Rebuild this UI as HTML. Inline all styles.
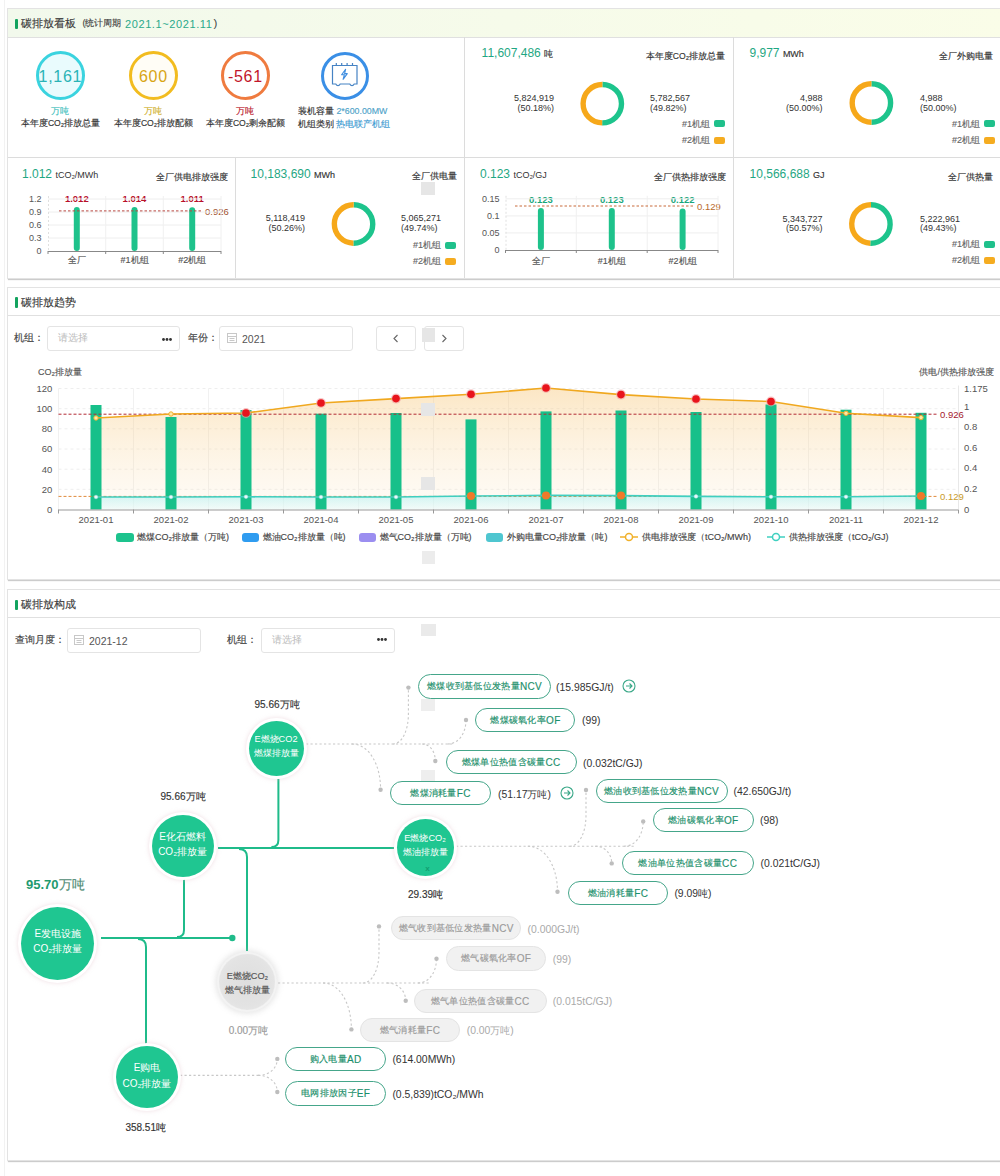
<!DOCTYPE html>
<html><head><meta charset="utf-8">
<style>
*{margin:0;padding:0;box-sizing:border-box}
html,body{width:1000px;height:1176px;overflow:hidden;background:#fff}
body{position:relative;font-family:"Liberation Sans",sans-serif;color:#333;font-size:11px}
.a{position:absolute;white-space:nowrap;line-height:1}
.card{position:absolute;left:7px;width:1000px;border:1px solid #e3e3e3;background:#fff;box-shadow:0 2px 1px -1px rgba(0,0,0,.2)}
.hd{position:absolute;left:0;top:0;right:0;border-bottom:1px solid #e0e0e0}
.bar{position:absolute;width:3px;background:#13a35f;border-radius:1px}
.vl{position:absolute;width:1px;background:#dcdcdc}
.hl{position:absolute;height:1px;background:#dcdcdc}
.inp{position:absolute;border:1px solid #e4e4e4;border-radius:3px;background:#fff}
.sq{position:absolute;background:#e6e6e6}
.num{color:#1fa783}
.c{transform:translateX(-50%)}
.sw{position:absolute;width:10.5px;height:7px;border-radius:2px}
.ts{-webkit-text-stroke:0.15px currentColor}
</style></head><body>
<div class="a" style="left:3.5px;top:0;width:1px;height:1176px;background:#f2f2f2"></div>
<div class="card" style="top:8px;height:271px"><div class="hd" style="height:29px;background:linear-gradient(90deg,#f2f9ec,#fafde8)"></div></div>
<div class="bar" style="left:15px;top:18.5px;height:10px"></div>
<div class="a ts" style="left:21px;top:17.5px;font-size:11px;color:#3a3a3a">碳排放看板</div>
<div class="a ts" style="left:82.5px;top:19px;font-size:9px;color:#444">(统计周期</div>
<div class="a" style="left:125px;top:18.6px;font-size:11px;letter-spacing:0.6px;color:#2aa98a">2021.1~2021.11</div>
<div class="a" style="left:213.5px;top:17.5px;font-size:11.5px;color:#444">)</div>
<div class="hl" style="left:8px;top:157px;width:992px"></div>
<div class="vl" style="left:464px;top:37px;height:241px"></div>
<div class="vl" style="left:733px;top:37px;height:241px"></div>
<div class="vl" style="left:235px;top:157px;height:121px"></div>
<div class="a" style="left:35.5px;top:51.2px;width:49px;height:49px;border:3.5px solid #3ad3df;border-radius:50%;background:#e9fbfd"></div>
<div class="a c" style="left:60px;top:68.5px;font-size:16px;letter-spacing:0.7px;padding-left:0.7px;color:#2ab3b6">1,161</div>
<div class="a c ts" style="left:60px;top:106.7px;font-size:9px;color:#3fc0bd">万吨</div>
<div class="a c ts" style="left:60.5px;top:118.7px;font-size:8.6px;color:#333">本年度CO₂排放总量</div>
<div class="a" style="left:128.5px;top:51.2px;width:49px;height:49px;border:3.5px solid #f2bc1f;border-radius:50%;background:#fffdf6"></div>
<div class="a c" style="left:153px;top:68.5px;font-size:16px;letter-spacing:0.7px;padding-left:0.7px;color:#d8a514">600</div>
<div class="a c ts" style="left:153px;top:106.7px;font-size:9px;color:#d0b02e">万吨</div>
<div class="a c ts" style="left:153.5px;top:118.7px;font-size:8.6px;color:#333">本年度CO₂排放配额</div>
<div class="a" style="left:220.5px;top:51.2px;width:49px;height:49px;border:3.5px solid #ef7b3f;border-radius:50%;background:#fff"></div>
<div class="a c" style="left:245px;top:68.5px;font-size:16px;letter-spacing:0.7px;padding-left:0.7px;color:#c2162b">-561</div>
<div class="a c ts" style="left:245px;top:106.7px;font-size:9px;color:#b9172c">万吨</div>
<div class="a c ts" style="left:245.5px;top:118.7px;font-size:8.6px;color:#333">本年度CO₂剩余配额</div>
<div class="a" style="left:320.5px;top:51.5px;width:48px;height:48px;border:3px solid #3a8fe6;border-radius:50%;background:#fff"></div>
<svg class="a" style="left:330px;top:60px" width="30" height="30" viewBox="0 0 30 30" fill="none" stroke="#4683c4" stroke-width="1.2">
  <path d="M2.5 5.5 H27 V24 H24.2 Q23.4 25.6 22 25.6 Q20.6 25.6 19.8 24 H10.2 Q9.4 25.6 8 25.6 Q6.6 25.6 5.8 24 H2.5 Z"/>
  <path d="M6.3 3 V5.5 M11.7 3 V5.5 M17.1 3 V5.5 M22.5 3 V5.5"/>
  <path d="M15.6 9.3 L11.6 14.8 H14.3 L13.1 19.3 L17.3 13.6 H14.6 Z" fill="#d9ecfb" stroke="#3f8de0" stroke-width="1.1" stroke-linejoin="round"/>
</svg>
<div class="a ts" style="left:298px;top:106.6px;font-size:8.8px;color:#333">装机容量 <span style="color:#4fa3c9">2*600.00MW</span></div>
<div class="a ts" style="left:298px;top:119.8px;font-size:8.8px;color:#333">机组类别 <span style="color:#3e9bd2">热电联产机组</span></div>
<div class="a num" style="left:481.6px;top:47.1px;font-size:12px">11,607,486 <span class="ts" style="font-size:9px;color:#333">吨</span></div>
<div class="a ts" style="right:275.0px;top:52.2px;font-size:8.6px;color:#333">本年度CO₂排放总量</div>
<div class="a" style="right:446.0px;top:94.0px;font-size:9px;color:#333;text-align:right;line-height:9.5px">5,824,919<br>(50.18%)</div>
<div class="a" style="left:650px;top:94.0px;font-size:9px;color:#333;line-height:9.5px">5,782,567<br>(49.82%)</div>
<div class="a ts" style="right:290.0px;top:119.5px;font-size:9px;color:#666">#1机组</div>
<div class="a ts" style="right:290.0px;top:135.9px;font-size:9px;color:#666">#2机组</div>
<div class="sw" style="left:714px;top:120.3px;background:#1fc08b"></div>
<div class="sw" style="left:714px;top:137.0px;background:#f5ac20"></div>
<svg class="a" style="left:0;top:0;overflow:visible" width="1" height="1" fill="none" stroke-width="5.4"><path d="M602.4 84.5 A19.2 19.2 0 1 1 602.18 122.90" stroke="#1dc48c"/><path d="M602.18 122.90 A19.2 19.2 0 0 1 602.4 84.5" stroke="#f6a81a"/></svg>
<div class="a num" style="left:749.5px;top:47.1px;font-size:12px">9,977 <span class="ts" style="font-size:9px;color:#333">MWh</span></div>
<div class="a ts" style="right:6.7px;top:51.9px;font-size:8.6px;color:#333">全厂外购电量</div>
<div class="a" style="right:177.5px;top:94.0px;font-size:9px;color:#333;text-align:right;line-height:9.5px">4,988<br>(50.00%)</div>
<div class="a" style="left:920px;top:94.0px;font-size:9px;color:#333;line-height:9.5px">4,988<br>(50.00%)</div>
<div class="a ts" style="right:20.0px;top:119.5px;font-size:9px;color:#666">#1机组</div>
<div class="a ts" style="right:20.0px;top:135.5px;font-size:9px;color:#666">#2机组</div>
<div class="sw" style="left:984px;top:120.3px;background:#1fc08b"></div>
<div class="sw" style="left:984px;top:136.6px;background:#f5ac20"></div>
<svg class="a" style="left:0;top:0;overflow:visible" width="1" height="1" fill="none" stroke-width="5.4"><path d="M871.4 83.8 A19.2 19.2 0 0 1 871.40 122.20" stroke="#1dc48c"/><path d="M871.40 122.20 A19.2 19.2 0 1 1 871.4 83.8" stroke="#f6a81a"/></svg>
<div class="a num" style="left:250.6px;top:168.1px;font-size:12px">10,183,690 <span class="ts" style="font-size:9px;color:#333">MWh</span></div>
<div class="a ts" style="right:543.0px;top:172.4px;font-size:8.6px;color:#333">全厂供电量</div>
<div class="a" style="right:695.0px;top:214.0px;font-size:9px;color:#333;text-align:right;line-height:9.5px">5,118,419<br>(50.26%)</div>
<div class="a" style="left:401px;top:214.0px;font-size:9px;color:#333;line-height:9.5px">5,065,271<br>(49.74%)</div>
<div class="a ts" style="right:559.0px;top:240.9px;font-size:9px;color:#666">#1机组</div>
<div class="a ts" style="right:559.0px;top:256.7px;font-size:9px;color:#666">#2机组</div>
<div class="sw" style="left:445px;top:241.7px;background:#1fc08b"></div>
<div class="sw" style="left:445px;top:257.8px;background:#f5ac20"></div>
<svg class="a" style="left:0;top:0;overflow:visible" width="1" height="1" fill="none" stroke-width="5.4"><path d="M353.7 204.8 A19.2 19.2 0 1 1 353.39 243.20" stroke="#1dc48c"/><path d="M353.39 243.20 A19.2 19.2 0 0 1 353.7 204.8" stroke="#f6a81a"/></svg>
<div class="a num" style="left:749.6px;top:167.6px;font-size:12px">10,566,688 <span class="ts" style="font-size:9px;color:#333">GJ</span></div>
<div class="a ts" style="right:7.0px;top:172.9px;font-size:8.6px;color:#333">全厂供热量</div>
<div class="a" style="right:177.5px;top:214.7px;font-size:9px;color:#333;text-align:right;line-height:9.5px">5,343,727<br>(50.57%)</div>
<div class="a" style="left:920px;top:214.7px;font-size:9px;color:#333;line-height:9.5px">5,222,961<br>(49.43%)</div>
<div class="a ts" style="right:20.0px;top:240.3px;font-size:9px;color:#666">#1机组</div>
<div class="a ts" style="right:20.0px;top:256.0px;font-size:9px;color:#666">#2机组</div>
<div class="sw" style="left:984px;top:241.1px;background:#1fc08b"></div>
<div class="sw" style="left:984px;top:257.1px;background:#f5ac20"></div>
<svg class="a" style="left:0;top:0;overflow:visible" width="1" height="1" fill="none" stroke-width="5.4"><path d="M871 204.8 A19.2 19.2 0 1 1 870.31 243.19" stroke="#1dc48c"/><path d="M870.31 243.19 A19.2 19.2 0 0 1 871 204.8" stroke="#f6a81a"/></svg>
<div class="sq" style="left:421px;top:182px;width:14px;height:13px"></div>
<div class="a num" style="left:22px;top:168.1px;font-size:12px">1.012 <span style="font-size:9px;color:#333">tCO₂/MWh</span></div>
<div class="a ts" style="right:772.2px;top:172.9px;font-size:8.6px;color:#333">全厂供电排放强度</div>
<div class="a" style="right:958.5px;top:194.7px;font-size:9px;color:#555">1.2</div>
<div class="a" style="right:958.5px;top:207.7px;font-size:9px;color:#555">0.9</div>
<div class="a" style="right:958.5px;top:220.7px;font-size:9px;color:#555">0.6</div>
<div class="a" style="right:958.5px;top:233.7px;font-size:9px;color:#555">0.3</div>
<div class="a" style="right:958.5px;top:246.7px;font-size:9px;color:#555">0</div>
<div class="a c" style="left:76.8px;top:193.8px;font-size:9.5px;font-weight:bold;color:#b8102a">1.012</div>
<div class="a c ts" style="left:76.8px;top:256.2px;font-size:9px;color:#555">全厂</div>
<div class="a c" style="left:134.5px;top:193.8px;font-size:9.5px;font-weight:bold;color:#b8102a">1.014</div>
<div class="a c ts" style="left:134.5px;top:256.2px;font-size:9px;color:#555">#1机组</div>
<div class="a c" style="left:192.2px;top:193.9px;font-size:9.5px;font-weight:bold;color:#b8102a">1.011</div>
<div class="a c ts" style="left:192.2px;top:256.2px;font-size:9px;color:#555">#2机组</div>
<div class="a" style="left:205px;top:206.6px;font-size:9.5px;color:#a0522d">0.926</div>
<svg class="a" style="left:0;top:0;overflow:visible" width="1" height="1">
<line x1="48" y1="199.0" x2="221" y2="199.0" stroke="#eeeeee" stroke-width="1"/>
<line x1="48" y1="212.0" x2="221" y2="212.0" stroke="#eeeeee" stroke-width="1"/>
<line x1="48" y1="225.0" x2="221" y2="225.0" stroke="#eeeeee" stroke-width="1"/>
<line x1="48" y1="238.0" x2="221" y2="238.0" stroke="#eeeeee" stroke-width="1"/>
<line x1="105.7" y1="196" x2="105.7" y2="251" stroke="#f0f0f0" stroke-width="1"/>
<line x1="163.3" y1="196" x2="163.3" y2="251" stroke="#f0f0f0" stroke-width="1"/>
<line x1="221.0" y1="196" x2="221.0" y2="251" stroke="#f0f0f0" stroke-width="1"/>
<line x1="48" y1="251.5" x2="221" y2="251.5" stroke="#888" stroke-width="1"/>
<line x1="48.0" y1="251" x2="48.0" y2="254" stroke="#888" stroke-width="1"/>
<line x1="105.7" y1="251" x2="105.7" y2="254" stroke="#888" stroke-width="1"/>
<line x1="163.3" y1="251" x2="163.3" y2="254" stroke="#888" stroke-width="1"/>
<line x1="221.0" y1="251" x2="221.0" y2="254" stroke="#888" stroke-width="1"/>
<line x1="48.5" y1="196" x2="48.5" y2="251" stroke="#e0e0e0" stroke-width="1" stroke-dasharray="2 2"/>
<line x1="76.8" y1="210.1" x2="76.8" y2="248" stroke="#1ec28b" stroke-width="6" stroke-linecap="round"/>
<line x1="134.5" y1="210.1" x2="134.5" y2="248" stroke="#1ec28b" stroke-width="6" stroke-linecap="round"/>
<line x1="192.2" y1="210.2" x2="192.2" y2="248" stroke="#1ec28b" stroke-width="6" stroke-linecap="round"/>
<line x1="59" y1="210.9" x2="202.5" y2="210.9" stroke="#b84840" stroke-width="1" stroke-dasharray="2.5 2"/>
</svg>
<div class="a num" style="left:480px;top:168.3px;font-size:12px">0.123 <span style="font-size:9px;color:#333">tCO₂/GJ</span></div>
<div class="a ts" style="right:274.5px;top:172.9px;font-size:8.6px;color:#333">全厂供热排放强度</div>
<div class="a" style="right:500.4px;top:194.5px;font-size:9px;color:#555">0.15</div>
<div class="a" style="right:500.4px;top:211.6px;font-size:9px;color:#555">0.1</div>
<div class="a" style="right:500.4px;top:228.6px;font-size:9px;color:#555">0.05</div>
<div class="a" style="right:500.4px;top:245.7px;font-size:9px;color:#555">0</div>
<div class="a c" style="left:540.9px;top:194.7px;font-size:9.5px;font-weight:bold;color:#1aa67a">0.123</div>
<div class="a c ts" style="left:540.9px;top:256.7px;font-size:9px;color:#555">全厂</div>
<div class="a c" style="left:611.8px;top:194.7px;font-size:9.5px;font-weight:bold;color:#1aa67a">0.123</div>
<div class="a c ts" style="left:611.8px;top:256.7px;font-size:9px;color:#555">#1机组</div>
<div class="a c" style="left:682.6px;top:195.1px;font-size:9.5px;font-weight:bold;color:#1aa67a">0.122</div>
<div class="a c ts" style="left:682.6px;top:256.7px;font-size:9px;color:#555">#2机组</div>
<div class="a" style="left:697px;top:201.7px;font-size:9.5px;color:#b86a2c">0.129</div>
<svg class="a" style="left:0;top:0;overflow:visible" width="1" height="1">
<line x1="505.5" y1="198.8" x2="718" y2="198.8" stroke="#eeeeee" stroke-width="1"/>
<line x1="505.5" y1="215.9" x2="718" y2="215.9" stroke="#eeeeee" stroke-width="1"/>
<line x1="505.5" y1="232.9" x2="718" y2="232.9" stroke="#eeeeee" stroke-width="1"/>
<line x1="576.3" y1="195.8" x2="576.3" y2="250" stroke="#f0f0f0" stroke-width="1"/>
<line x1="647.2" y1="195.8" x2="647.2" y2="250" stroke="#f0f0f0" stroke-width="1"/>
<line x1="718.0" y1="195.8" x2="718.0" y2="250" stroke="#f0f0f0" stroke-width="1"/>
<line x1="505.5" y1="250.5" x2="718" y2="250.5" stroke="#888" stroke-width="1"/>
<line x1="505.5" y1="250" x2="505.5" y2="253" stroke="#888" stroke-width="1"/>
<line x1="576.3" y1="250" x2="576.3" y2="253" stroke="#888" stroke-width="1"/>
<line x1="647.2" y1="250" x2="647.2" y2="253" stroke="#888" stroke-width="1"/>
<line x1="718.0" y1="250" x2="718.0" y2="253" stroke="#888" stroke-width="1"/>
<line x1="506.0" y1="195.8" x2="506.0" y2="250" stroke="#e0e0e0" stroke-width="1" stroke-dasharray="2 2"/>
<line x1="540.9" y1="211.0" x2="540.9" y2="247" stroke="#1ec28b" stroke-width="6" stroke-linecap="round"/>
<line x1="611.8" y1="211.0" x2="611.8" y2="247" stroke="#1ec28b" stroke-width="6" stroke-linecap="round"/>
<line x1="682.6" y1="211.4" x2="682.6" y2="247" stroke="#1ec28b" stroke-width="6" stroke-linecap="round"/>
<line x1="515" y1="206.0" x2="693" y2="206.0" stroke="#c86a3a" stroke-width="1" stroke-dasharray="2.5 2"/>
</svg>
<div class="card" style="top:287px;height:293px"><div class="hd" style="height:28px;background:#fff"></div></div>
<div class="bar" style="left:15px;top:297px;height:11px"></div>
<div class="a ts" style="left:21px;top:297.3px;font-size:11px;color:#3a3a3a">碳排放趋势</div>
<div class="a ts" style="left:14.4px;top:332.8px;font-size:10px;color:#444">机组：</div>
<div class="inp" style="left:47px;top:325.5px;width:133px;height:25px"></div>
<div class="a" style="left:57.5px;top:332.8px;font-size:10px;color:#bbb">请选择</div>
<svg class="a" style="left:160px;top:336px" width="14" height="7" fill="#333"><circle cx="3.5" cy="3.5" r="1.4"/><circle cx="7" cy="3.5" r="1.4"/><circle cx="10.5" cy="3.5" r="1.4"/></svg>
<div class="a ts" style="left:187.6px;top:333.2px;font-size:10px;color:#444">年份：</div>
<div class="inp" style="left:219px;top:325.5px;width:134px;height:25px"></div>
<svg class="a" style="left:226.5px;top:333px" width="10" height="10" fill="none" stroke="#c8c8c8" stroke-width="1"><rect x="0.5" y="0.5" width="9" height="9"/><line x1="0.5" y1="3.5" x2="9.5" y2="3.5"/><line x1="2.5" y1="5.5" x2="7.5" y2="5.5"/><line x1="2.5" y1="7.5" x2="7.5" y2="7.5"/></svg>
<div class="a" style="left:242px;top:333.5px;font-size:10.5px;color:#555">2021</div>
<div class="inp" style="left:376px;top:325.5px;width:40px;height:25px"></div>
<div class="inp" style="left:424px;top:325.5px;width:40px;height:25px"></div>
<svg class="a" style="left:392px;top:334px" width="8" height="9" fill="none" stroke="#666" stroke-width="1.1"><path d="M5.5 1 L2 4.5 L5.5 8"/></svg>
<svg class="a" style="left:440px;top:334px" width="8" height="9" fill="none" stroke="#666" stroke-width="1.1"><path d="M2.5 1 L6 4.5 L2.5 8"/></svg>
<div class="sq" style="left:422px;top:327.5px;width:13px;height:14px"></div>
<svg class="a" style="left:0;top:0;overflow:visible" width="1000" height="1176">
<defs><linearGradient id="og" x1="0" y1="0" x2="0" y2="1"><stop offset="0" stop-color="#f7c574" stop-opacity="0.42"/><stop offset="1" stop-color="#fbe3bd" stop-opacity="0.13"/></linearGradient>
<linearGradient id="tg" x1="0" y1="0" x2="0" y2="1"><stop offset="0" stop-color="#b2f0f0" stop-opacity="0.6"/><stop offset="1" stop-color="#e6fbfb" stop-opacity="0.5"/></linearGradient></defs>
<line x1="58.5" y1="489.3" x2="958.5" y2="489.3" stroke="#eeeeee" stroke-dasharray="3 3"/>
<line x1="58.5" y1="469.2" x2="958.5" y2="469.2" stroke="#eeeeee" stroke-dasharray="3 3"/>
<line x1="58.5" y1="449.0" x2="958.5" y2="449.0" stroke="#eeeeee" stroke-dasharray="3 3"/>
<line x1="58.5" y1="428.8" x2="958.5" y2="428.8" stroke="#eeeeee" stroke-dasharray="3 3"/>
<line x1="58.5" y1="408.7" x2="958.5" y2="408.7" stroke="#eeeeee" stroke-dasharray="3 3"/>
<line x1="58.5" y1="388.5" x2="958.5" y2="388.5" stroke="#eeeeee" stroke-dasharray="3 3"/>
<line x1="58.5" y1="388.5" x2="58.5" y2="509.5" stroke="#f1f1f1"/>
<line x1="133.5" y1="388.5" x2="133.5" y2="509.5" stroke="#f1f1f1"/>
<line x1="208.5" y1="388.5" x2="208.5" y2="509.5" stroke="#f1f1f1"/>
<line x1="283.5" y1="388.5" x2="283.5" y2="509.5" stroke="#f1f1f1"/>
<line x1="358.5" y1="388.5" x2="358.5" y2="509.5" stroke="#f1f1f1"/>
<line x1="433.5" y1="388.5" x2="433.5" y2="509.5" stroke="#f1f1f1"/>
<line x1="508.5" y1="388.5" x2="508.5" y2="509.5" stroke="#f1f1f1"/>
<line x1="583.5" y1="388.5" x2="583.5" y2="509.5" stroke="#f1f1f1"/>
<line x1="658.5" y1="388.5" x2="658.5" y2="509.5" stroke="#f1f1f1"/>
<line x1="733.5" y1="388.5" x2="733.5" y2="509.5" stroke="#f1f1f1"/>
<line x1="808.5" y1="388.5" x2="808.5" y2="509.5" stroke="#f1f1f1"/>
<line x1="883.5" y1="388.5" x2="883.5" y2="509.5" stroke="#f1f1f1"/>
<line x1="958.5" y1="388.5" x2="958.5" y2="509.5" stroke="#f1f1f1"/>
<path d="M96.0 509.5 L96.0 418 171.0 414 246.0 413 321.0 403 396.0 398.6 471.0 394.2 546.0 388 621.0 394.6 696.0 399 771.0 401.5 846.0 413.3 921.0 417.6 L921.0 509.5 Z" fill="url(#og)"/>
<path d="M96.0 509.5 L96.0 497 171.0 497 246.0 496.8 321.0 497 396.0 497 471.0 496 546.0 495.4 621.0 495.6 696.0 496.4 771.0 496.8 846.0 496.8 921.0 496 L921.0 509.5 Z" fill="url(#tg)"/>
<rect x="90.5" y="405" width="11" height="104.5" fill="#17c08a"/>
<rect x="165.5" y="417" width="11" height="92.5" fill="#17c08a"/>
<rect x="240.5" y="410" width="11" height="99.5" fill="#17c08a"/>
<rect x="315.5" y="413.7" width="11" height="95.8" fill="#17c08a"/>
<rect x="390.5" y="413" width="11" height="96.5" fill="#17c08a"/>
<rect x="465.5" y="419.4" width="11" height="90.1" fill="#17c08a"/>
<rect x="540.5" y="411.4" width="11" height="98.1" fill="#17c08a"/>
<rect x="615.5" y="410.5" width="11" height="99.0" fill="#17c08a"/>
<rect x="690.5" y="412" width="11" height="97.5" fill="#17c08a"/>
<rect x="765.5" y="404.5" width="11" height="105.0" fill="#17c08a"/>
<rect x="840.5" y="409.7" width="11" height="99.8" fill="#17c08a"/>
<rect x="915.5" y="412.8" width="11" height="96.7" fill="#17c08a"/>
<line x1="58.5" y1="510.0" x2="958.5" y2="510.0" stroke="#999"/>
<line x1="58.5" y1="509.5" x2="58.5" y2="513.5" stroke="#999"/>
<line x1="133.5" y1="509.5" x2="133.5" y2="513.5" stroke="#999"/>
<line x1="208.5" y1="509.5" x2="208.5" y2="513.5" stroke="#999"/>
<line x1="283.5" y1="509.5" x2="283.5" y2="513.5" stroke="#999"/>
<line x1="358.5" y1="509.5" x2="358.5" y2="513.5" stroke="#999"/>
<line x1="433.5" y1="509.5" x2="433.5" y2="513.5" stroke="#999"/>
<line x1="508.5" y1="509.5" x2="508.5" y2="513.5" stroke="#999"/>
<line x1="583.5" y1="509.5" x2="583.5" y2="513.5" stroke="#999"/>
<line x1="658.5" y1="509.5" x2="658.5" y2="513.5" stroke="#999"/>
<line x1="733.5" y1="509.5" x2="733.5" y2="513.5" stroke="#999"/>
<line x1="808.5" y1="509.5" x2="808.5" y2="513.5" stroke="#999"/>
<line x1="883.5" y1="509.5" x2="883.5" y2="513.5" stroke="#999"/>
<line x1="958.5" y1="509.5" x2="958.5" y2="513.5" stroke="#999"/>
<line x1="958.5" y1="385.5" x2="958.5" y2="509.5" stroke="#e8e8e8"/>
<line x1="58.5" y1="414.2" x2="938" y2="414.2" stroke="#b32a35" stroke-width="1" stroke-dasharray="3 2"/>
<line x1="58.5" y1="496.4" x2="938" y2="496.4" stroke="#e08a3c" stroke-width="1" stroke-dasharray="3 2"/>
<polyline points="96.0 418 171.0 414 246.0 413 321.0 403 396.0 398.6 471.0 394.2 546.0 388 621.0 394.6 696.0 399 771.0 401.5 846.0 413.3 921.0 417.6" fill="none" stroke="#f0a81f" stroke-width="1.6"/>
<polyline points="96.0 497 171.0 497 246.0 496.8 321.0 497 396.0 497 471.0 496 546.0 495.4 621.0 495.6 696.0 496.4 771.0 496.8 846.0 496.8 921.0 496" fill="none" stroke="#3fcfc0" stroke-width="1.6"/>
<circle cx="96.0" cy="418" r="2.2" fill="#fde9a6" stroke="#f0b030" stroke-width="1"/>
<circle cx="171.0" cy="414" r="2.2" fill="#fde9a6" stroke="#f0b030" stroke-width="1"/>
<circle cx="246.0" cy="413" r="5" fill="#f4a0a0" opacity="0.6"/><circle cx="246.0" cy="413" r="3.8" fill="#e8141c"/>
<circle cx="321.0" cy="403" r="5" fill="#f4a0a0" opacity="0.6"/><circle cx="321.0" cy="403" r="3.8" fill="#e8141c"/>
<circle cx="396.0" cy="398.6" r="5" fill="#f4a0a0" opacity="0.6"/><circle cx="396.0" cy="398.6" r="3.8" fill="#e8141c"/>
<circle cx="471.0" cy="394.2" r="5" fill="#f4a0a0" opacity="0.6"/><circle cx="471.0" cy="394.2" r="3.8" fill="#e8141c"/>
<circle cx="546.0" cy="388" r="5" fill="#f4a0a0" opacity="0.6"/><circle cx="546.0" cy="388" r="3.8" fill="#e8141c"/>
<circle cx="621.0" cy="394.6" r="5" fill="#f4a0a0" opacity="0.6"/><circle cx="621.0" cy="394.6" r="3.8" fill="#e8141c"/>
<circle cx="696.0" cy="399" r="5" fill="#f4a0a0" opacity="0.6"/><circle cx="696.0" cy="399" r="3.8" fill="#e8141c"/>
<circle cx="771.0" cy="401.5" r="5" fill="#f4a0a0" opacity="0.6"/><circle cx="771.0" cy="401.5" r="3.8" fill="#e8141c"/>
<circle cx="846.0" cy="413.3" r="2.2" fill="#fde9a6" stroke="#f0b030" stroke-width="1"/>
<circle cx="921.0" cy="417.6" r="2.2" fill="#fde9a6" stroke="#f0b030" stroke-width="1"/>
<circle cx="96.0" cy="497" r="1.8" fill="#e8fbf8" stroke="#bde" stroke-width="0.5"/>
<circle cx="171.0" cy="497" r="1.8" fill="#e8fbf8" stroke="#bde" stroke-width="0.5"/>
<circle cx="246.0" cy="496.8" r="1.8" fill="#e8fbf8" stroke="#bde" stroke-width="0.5"/>
<circle cx="321.0" cy="497" r="1.8" fill="#e8fbf8" stroke="#bde" stroke-width="0.5"/>
<circle cx="396.0" cy="497" r="1.8" fill="#e8fbf8" stroke="#bde" stroke-width="0.5"/>
<circle cx="471.0" cy="496" r="4" fill="#f07a2a"/>
<circle cx="546.0" cy="495.4" r="4" fill="#f07a2a"/>
<circle cx="621.0" cy="495.6" r="4" fill="#f07a2a"/>
<circle cx="696.0" cy="496.4" r="1.8" fill="#e8fbf8" stroke="#bde" stroke-width="0.5"/>
<circle cx="771.0" cy="496.8" r="1.8" fill="#e8fbf8" stroke="#bde" stroke-width="0.5"/>
<circle cx="846.0" cy="496.8" r="1.8" fill="#e8fbf8" stroke="#bde" stroke-width="0.5"/>
<circle cx="921.0" cy="496" r="4" fill="#f07a2a"/>
</svg>
<div class="a ts" style="left:38px;top:367.7px;font-size:9px;color:#555">CO₂排放量</div>
<div class="a ts" style="right:6px;top:367.7px;font-size:9px;color:#555">供电/供热排放强度</div>
<div class="a" style="right:947.6px;top:504.9px;font-size:9.5px;color:#555">0</div>
<div class="a" style="right:947.6px;top:484.7px;font-size:9.5px;color:#555">20</div>
<div class="a" style="right:947.6px;top:464.6px;font-size:9.5px;color:#555">40</div>
<div class="a" style="right:947.6px;top:444.4px;font-size:9.5px;color:#555">60</div>
<div class="a" style="right:947.6px;top:424.2px;font-size:9.5px;color:#555">80</div>
<div class="a" style="right:947.6px;top:404.1px;font-size:9.5px;color:#555">100</div>
<div class="a" style="right:947.6px;top:383.9px;font-size:9.5px;color:#555">120</div>
<div class="a" style="left:964px;top:383.6px;font-size:9.5px;color:#555">1.175</div>
<div class="a" style="left:964px;top:401.6px;font-size:9.5px;color:#555">1</div>
<div class="a" style="left:964px;top:422.2px;font-size:9.5px;color:#555">0.8</div>
<div class="a" style="left:964px;top:442.8px;font-size:9.5px;color:#555">0.6</div>
<div class="a" style="left:964px;top:463.4px;font-size:9.5px;color:#555">0.4</div>
<div class="a" style="left:964px;top:484.0px;font-size:9.5px;color:#555">0.2</div>
<div class="a" style="left:964px;top:504.6px;font-size:9.5px;color:#555">0</div>
<div class="a c" style="left:96.0px;top:515.2px;font-size:9.5px;color:#555">2021-01</div>
<div class="a c" style="left:171.0px;top:515.2px;font-size:9.5px;color:#555">2021-02</div>
<div class="a c" style="left:246.0px;top:515.2px;font-size:9.5px;color:#555">2021-03</div>
<div class="a c" style="left:321.0px;top:515.2px;font-size:9.5px;color:#555">2021-04</div>
<div class="a c" style="left:396.0px;top:515.2px;font-size:9.5px;color:#555">2021-05</div>
<div class="a c" style="left:471.0px;top:515.2px;font-size:9.5px;color:#555">2021-06</div>
<div class="a c" style="left:546.0px;top:515.2px;font-size:9.5px;color:#555">2021-07</div>
<div class="a c" style="left:621.0px;top:515.2px;font-size:9.5px;color:#555">2021-08</div>
<div class="a c" style="left:696.0px;top:515.2px;font-size:9.5px;color:#555">2021-09</div>
<div class="a c" style="left:771.0px;top:515.2px;font-size:9.5px;color:#555">2021-10</div>
<div class="a c" style="left:846.0px;top:515.2px;font-size:9.5px;color:#555">2021-11</div>
<div class="a c" style="left:921.0px;top:515.2px;font-size:9.5px;color:#555">2021-12</div>
<div class="a" style="left:940px;top:409.8px;font-size:9.5px;color:#a3192c">0.926</div>
<div class="a" style="left:940px;top:492px;font-size:9.5px;color:#c89a2a">0.129</div>
<div class="sq" style="left:421px;top:402.5px;width:14px;height:13px"></div>
<div class="sq" style="left:421px;top:476.6px;width:14px;height:13.5px"></div>
<div class="a" style="left:116px;top:532.5px;width:17.5px;height:9.5px;border-radius:3px;background:#1dc38d"></div>
<div class="a ts" style="left:137px;top:533px;font-size:9px;color:#444">燃煤CO₂排放量（万吨)</div>
<div class="a" style="left:241.6px;top:532.5px;width:17.5px;height:9.5px;border-radius:3px;background:#2f9cf0"></div>
<div class="a ts" style="left:262.6px;top:533px;font-size:9px;color:#444">燃油CO₂排放量（吨)</div>
<div class="a" style="left:358.6px;top:532.5px;width:17.5px;height:9.5px;border-radius:3px;background:#9b8ef0"></div>
<div class="a ts" style="left:379.6px;top:533px;font-size:9px;color:#444">燃气CO₂排放量（万吨)</div>
<div class="a" style="left:485.5px;top:532.5px;width:17.5px;height:9.5px;border-radius:3px;background:#4fc6d0"></div>
<div class="a ts" style="left:506.5px;top:533px;font-size:9px;color:#444">外购电量CO₂排放量（吨)</div>
<svg class="a" style="left:620px;top:532px" width="18" height="10"><line x1="0" y1="5" x2="18" y2="5" stroke="#f0b12a" stroke-width="1.5"/><circle cx="9" cy="5" r="3.5" fill="#fff" stroke="#f0b12a" stroke-width="1.5"/></svg>
<div class="a ts" style="left:642px;top:533px;font-size:9px;color:#444">供电排放强度（tCO₂/MWh)</div>
<svg class="a" style="left:767px;top:532px" width="18" height="10"><line x1="0" y1="5" x2="18" y2="5" stroke="#3fd0c0" stroke-width="1.5"/><circle cx="9" cy="5" r="3.5" fill="#fff" stroke="#3fd0c0" stroke-width="1.5"/></svg>
<div class="a ts" style="left:789px;top:533px;font-size:9px;color:#444">供热排放强度（tCO₂/GJ)</div>
<div class="sq" style="left:421.5px;top:550.5px;width:13.5px;height:13.5px;background:#ececec"></div>
<div class="card" style="top:589px;height:572px"><div class="hd" style="height:28px;background:#fff"></div></div>
<div class="bar" style="left:15px;top:599.5px;height:10px"></div>
<div class="a ts" style="left:21px;top:599.2px;font-size:11px;color:#3a3a3a">碳排放构成</div>
<div class="a ts" style="left:14.5px;top:635px;font-size:10px;color:#444">查询月度：</div>
<div class="inp" style="left:66.5px;top:627.5px;width:134px;height:25px"></div>
<svg class="a" style="left:74px;top:635px" width="10" height="10" fill="none" stroke="#c8c8c8" stroke-width="1"><rect x="0.5" y="0.5" width="9" height="9"/><line x1="0.5" y1="3.5" x2="9.5" y2="3.5"/><line x1="2.5" y1="5.5" x2="7.5" y2="5.5"/><line x1="2.5" y1="7.5" x2="7.5" y2="7.5"/></svg>
<div class="a" style="left:89px;top:635.5px;font-size:10.5px;color:#555">2021-12</div>
<div class="a ts" style="left:227px;top:635px;font-size:10px;color:#444">机组：</div>
<div class="inp" style="left:261px;top:627.5px;width:134px;height:25px"></div>
<div class="a" style="left:272px;top:635px;font-size:10px;color:#bbb">请选择</div>
<svg class="a" style="left:374.5px;top:636.3px" width="14" height="7" fill="#333"><circle cx="3.5" cy="3.5" r="1.4"/><circle cx="7" cy="3.5" r="1.4"/><circle cx="10.5" cy="3.5" r="1.4"/></svg>
<div class="sq" style="left:421px;top:624px;width:15px;height:12px;background:#eaeaea"></div>
<div class="sq" style="left:421px;top:699px;width:14px;height:12px;background:#eeeeee"></div>
<div class="sq" style="left:421px;top:770px;width:14px;height:11px;background:#eeeeee"></div>
<svg class="a" style="left:0;top:0;overflow:visible" width="1000" height="1176" fill="none">
<path d="M101 938 H232" stroke="#1fbb8a" stroke-width="2"/>
<circle cx="232.3" cy="938" r="3.2" fill="#1fbb8a"/>
<path d="M184 877 V930 Q184 937 177 937" stroke="#1fbb8a" stroke-width="2"/>
<path d="M138 939 Q146 939 146 947 V1046" stroke="#1fbb8a" stroke-width="2"/>
<path d="M218 848 H394" stroke="#1fbb8a" stroke-width="2"/>
<path d="M278.4 779 V840 Q278.4 847 271.4 847" stroke="#1fbb8a" stroke-width="2"/>
<path d="M239 849 Q247 849 247 857 V951" stroke="#1fbb8a" stroke-width="2"/>
<path d="M306 744 H453" stroke="#c8c8c8" stroke-width="1.1" stroke-dasharray="2.2 2.3"/>
<path d="M392.7 744 C402.1 744 408.4 730.5 408.4 714.0 V687.6" stroke="#c8c8c8" stroke-width="1.1" stroke-dasharray="2.2 2.3"/>
<circle cx="408.4" cy="687.6" r="2.2" fill="#bdbdbd"/>
<path d="M447.6 744 C458.6 744 466 733.2 466 720.0 V720" stroke="#c8c8c8" stroke-width="1.1" stroke-dasharray="2.2 2.3"/>
<circle cx="466" cy="720" r="2.2" fill="#bdbdbd"/>
<path d="M422 744 C430.0 744 435.3 751.6 435.3 761.0 V761" stroke="#c8c8c8" stroke-width="1.1" stroke-dasharray="2.2 2.3"/>
<circle cx="435.3" cy="761" r="2.2" fill="#bdbdbd"/>
<path d="M352 744 C369.2 744 380.6 764.6 380.6 789.7 V789.7" stroke="#c8c8c8" stroke-width="1.1" stroke-dasharray="2.2 2.3"/>
<circle cx="380.6" cy="789.7" r="2.2" fill="#bdbdbd"/>
<path d="M456 846.2 H634" stroke="#c8c8c8" stroke-width="1.1" stroke-dasharray="2.2 2.3"/>
<path d="M569.7 846.2 C579.5 846.2 586 832.3 586 815.4 V790" stroke="#c8c8c8" stroke-width="1.1" stroke-dasharray="2.2 2.3"/>
<circle cx="586" cy="790" r="2.2" fill="#bdbdbd"/>
<path d="M624 846.2 C635.5 846.2 643.2 835.0 643.2 821.4 V821.4" stroke="#c8c8c8" stroke-width="1.1" stroke-dasharray="2.2 2.3"/>
<circle cx="643.2" cy="821.4" r="2.2" fill="#bdbdbd"/>
<path d="M595 846.2 C605.0 846.2 611.7 853.9 611.7 863.4 V863.4" stroke="#c8c8c8" stroke-width="1.1" stroke-dasharray="2.2 2.3"/>
<circle cx="611.7" cy="863.4" r="2.2" fill="#bdbdbd"/>
<path d="M527.7 846.2 C545.6 846.2 557.5 866.7 557.5 891.8 V891.8" stroke="#c8c8c8" stroke-width="1.1" stroke-dasharray="2.2 2.3"/>
<circle cx="557.5" cy="891.8" r="2.2" fill="#bdbdbd"/>
<path d="M278 983 H430" stroke="#c8c8c8" stroke-width="1.1" stroke-dasharray="2.2 2.3"/>
<path d="M362.8 983 C372.5 983 379 969.2 379 952.3 V926.4" stroke="#c8c8c8" stroke-width="1.1" stroke-dasharray="2.2 2.3"/>
<circle cx="379" cy="926.4" r="2.2" fill="#bdbdbd"/>
<path d="M418 983 C429.1 983 436.5 972.1 436.5 958.8 V958.8" stroke="#c8c8c8" stroke-width="1.1" stroke-dasharray="2.2 2.3"/>
<circle cx="436.5" cy="958.8" r="2.2" fill="#bdbdbd"/>
<path d="M387 983 C398.2 983 405.7 991.0 405.7 1000.8 V1000.8" stroke="#c8c8c8" stroke-width="1.1" stroke-dasharray="2.2 2.3"/>
<circle cx="405.7" cy="1000.8" r="2.2" fill="#bdbdbd"/>
<path d="M323 983 C340.0 983 351.4 1003.9 351.4 1029.4 V1029.4" stroke="#c8c8c8" stroke-width="1.1" stroke-dasharray="2.2 2.3"/>
<circle cx="351.4" cy="1029.4" r="2.2" fill="#bdbdbd"/>
<path d="M180 1075.4 H258" stroke="#c8c8c8" stroke-width="1.1" stroke-dasharray="2.2 2.3"/>
<path d="M258 1075.4 C269.6 1075.4 277.3 1068.0 277.3 1058.9 V1058.9" stroke="#c8c8c8" stroke-width="1.1" stroke-dasharray="2.2 2.3"/>
<circle cx="277.3" cy="1058.9" r="2.2" fill="#bdbdbd"/>
<path d="M258 1075.4 C269.6 1075.4 277.3 1082.9 277.3 1092.0 V1092" stroke="#c8c8c8" stroke-width="1.1" stroke-dasharray="2.2 2.3"/>
<circle cx="277.3" cy="1092" r="2.2" fill="#bdbdbd"/>
</svg>
<div class="a" style="left:21.299999999999997px;top:906.5px;width:73.0px;height:73.0px;border-radius:50%;background:#1fc691;box-shadow:0 0 0 3px #fff,0 0 4px 3px rgba(225,190,200,.5)"></div>
<div class="a c" style="left:57.8px;top:925.5px;font-size:10px;color:#fff;text-align:center;line-height:15.5px">E发电设施<br>CO₂排放量</div>
<div class="a" style="left:151.6px;top:815px;width:62px;height:62px;border-radius:50%;background:#1fc691;box-shadow:0 0 0 3px #fff,0 0 4px 3px rgba(225,190,200,.5)"></div>
<div class="a c" style="left:182.6px;top:829.2px;font-size:10px;color:#fff;text-align:center;line-height:15px">E化石燃料<br>CO₂排放量</div>
<div class="a" style="left:248.5px;top:721.0px;width:55.0px;height:55.0px;border-radius:50%;background:#1fc691;box-shadow:0 0 0 3px #fff,0 0 4px 3px rgba(225,190,200,.5)"></div>
<div class="a c" style="left:276px;top:731.7px;font-size:9.2px;color:#fff;text-align:center;line-height:14px">E燃烧CO2<br>燃煤排放量</div>
<div class="a" style="left:396.5px;top:818.5px;width:57.0px;height:57.0px;border-radius:50%;background:#1fc691;box-shadow:0 0 0 3px #fff,0 0 4px 3px rgba(225,190,200,.5)"></div>
<div class="a c" style="left:425px;top:832.0px;font-size:9.2px;color:#fff;text-align:center;line-height:13.5px">E燃烧CO₂<br>燃油排放量</div>
<div class="a" style="left:219.4px;top:954px;width:56px;height:56px;border-radius:50%;background:radial-gradient(circle,#dedede 0%,#e3e3e3 60%,#ebebeb 100%);box-shadow:0 0 0 2px #f3f3f3,0 0 6px 3px rgba(190,190,190,.45)"></div>
<div class="a c ts" style="left:247.4px;top:968.7px;font-size:9.2px;color:#555;text-align:center;line-height:14px">E燃烧CO₂<br>燃气排放量</div>
<div class="a" style="left:116px;top:1046px;width:62px;height:62px;border-radius:50%;background:#1fc691;box-shadow:0 0 0 3px #fff,0 0 4px 3px rgba(225,190,200,.5)"></div>
<div class="a c" style="left:147px;top:1059.5px;font-size:10px;color:#fff;text-align:center;line-height:16.5px">E购电<br>CO₂排放量</div>
<div class="a c" style="left:427.5px;top:864.5px;font-size:8px;font-weight:bold;color:#12a072">x</div>
<div class="a" style="left:26px;top:877.8px;font-size:13px;color:#1f9a6e;font-weight:bold">95.70<span class="ts" style="font-weight:normal;color:#4d8a72;font-size:12.5px">万吨</span></div>
<div class="a c ts" style="left:183px;top:791.6px;font-size:10px;color:#333">95.66万吨</div>
<div class="a c ts" style="left:277px;top:699.6px;font-size:10px;color:#333">95.66万吨</div>
<div class="a c ts" style="left:425.5px;top:890.2px;font-size:10px;color:#333">29.39吨</div>
<div class="a c ts" style="left:248.4px;top:1026.2px;font-size:10px;color:#999">0.00万吨</div>
<div class="a c ts" style="left:145.7px;top:1122.6px;font-size:10px;color:#333">358.51吨</div>
<div class="a ts" style="left:418.2px;top:674px;width:132.6px;height:24.8px;border-radius:13px;border:1.6px solid #45a68a;background:#fff;color:#1b8f6b;font-size:9px;letter-spacing:0.3px;text-align:center;line-height:23.8px">燃煤收到基低位发热量<span style="font-size:10px;vertical-align:-0.8px">NCV</span></div>
<div class="a" style="left:556px;top:682.9px;font-size:10.4px;color:#333">(15.985GJ/t)</div>
<svg class="a" style="left:622px;top:679.4px" width="14" height="14" fill="none" stroke="#3aa888" stroke-width="1.1"><circle cx="7" cy="7" r="6"/><path d="M4 7 H10 M7.5 4.5 L10 7 L7.5 9.5"/></svg>
<div class="a ts" style="left:475.4px;top:708px;width:100.1px;height:23.5px;border-radius:13px;border:1.6px solid #45a68a;background:#fff;color:#1b8f6b;font-size:9px;letter-spacing:0.3px;text-align:center;line-height:22.5px">燃煤碳氧化率<span style="font-size:10px;vertical-align:-0.8px">OF</span></div>
<div class="a" style="left:582px;top:716.2px;font-size:10.4px;color:#333">(99)</div>
<div class="a ts" style="left:445.5px;top:750.3px;width:131.3px;height:23.9px;border-radius:13px;border:1.6px solid #45a68a;background:#fff;color:#1b8f6b;font-size:9px;letter-spacing:0.3px;text-align:center;line-height:22.9px">燃煤单位热值含碳量<span style="font-size:10px;vertical-align:-0.8px">CC</span></div>
<div class="a" style="left:583px;top:758.8px;font-size:10.4px;color:#333">(0.032tC/GJ)</div>
<div class="a ts" style="left:390px;top:780.7px;width:101.0px;height:24.7px;border-radius:13px;border:1.6px solid #45a68a;background:#fff;color:#1b8f6b;font-size:9px;letter-spacing:0.3px;text-align:center;line-height:23.7px">燃煤消耗量<span style="font-size:10px;vertical-align:-0.8px">FC</span></div>
<div class="a" style="left:498px;top:789.5px;font-size:10.4px;color:#333">(51.17万吨)</div>
<svg class="a" style="left:559.5px;top:786.0px" width="14" height="14" fill="none" stroke="#3aa888" stroke-width="1.1"><circle cx="7" cy="7" r="6"/><path d="M4 7 H10 M7.5 4.5 L10 7 L7.5 9.5"/></svg>
<div class="a ts" style="left:595.5px;top:778.5px;width:132.0px;height:24.0px;border-radius:13px;border:1.6px solid #45a68a;background:#fff;color:#1b8f6b;font-size:9px;letter-spacing:0.3px;text-align:center;line-height:23.0px">燃油收到基低位发热量<span style="font-size:10px;vertical-align:-0.8px">NCV</span></div>
<div class="a" style="left:733.5px;top:787.0px;font-size:10.4px;color:#333">(42.650GJ/t)</div>
<div class="a ts" style="left:652.5px;top:808px;width:101.5px;height:23.6px;border-radius:13px;border:1.6px solid #45a68a;background:#fff;color:#1b8f6b;font-size:9px;letter-spacing:0.3px;text-align:center;line-height:22.6px">燃油碳氧化率<span style="font-size:10px;vertical-align:-0.8px">OF</span></div>
<div class="a" style="left:760px;top:816.3px;font-size:10.4px;color:#333">(98)</div>
<div class="a ts" style="left:621.6px;top:850.5px;width:132.4px;height:24.0px;border-radius:13px;border:1.6px solid #45a68a;background:#fff;color:#1b8f6b;font-size:9px;letter-spacing:0.3px;text-align:center;line-height:23.0px">燃油单位热值含碳量<span style="font-size:10px;vertical-align:-0.8px">CC</span></div>
<div class="a" style="left:760.5px;top:859.0px;font-size:10.4px;color:#333">(0.021tC/GJ)</div>
<div class="a ts" style="left:567.6px;top:880.5px;width:100.8px;height:24.0px;border-radius:13px;border:1.6px solid #45a68a;background:#fff;color:#1b8f6b;font-size:9px;letter-spacing:0.3px;text-align:center;line-height:23.0px">燃油消耗量<span style="font-size:10px;vertical-align:-0.8px">FC</span></div>
<div class="a" style="left:674.4px;top:889.0px;font-size:10.4px;color:#333">(9.09吨)</div>
<div class="a ts" style="left:391px;top:916px;width:130.3px;height:24.0px;border-radius:13px;border:1px solid #e4e4e4;background:#f1f1f1;color:#9a9a9a;font-size:9px;letter-spacing:0.3px;text-align:center;line-height:23.0px">燃气收到基低位发热量<span style="font-size:10px;vertical-align:-0.8px">NCV</span></div>
<div class="a" style="left:527.6px;top:924.5px;font-size:10.4px;color:#aaa">(0.000GJ/t)</div>
<div class="a ts" style="left:445.7px;top:946px;width:100.8px;height:24.5px;border-radius:13px;border:1px solid #e4e4e4;background:#f1f1f1;color:#9a9a9a;font-size:9px;letter-spacing:0.3px;text-align:center;line-height:23.5px">燃气碳氧化率<span style="font-size:10px;vertical-align:-0.8px">OF</span></div>
<div class="a" style="left:552.8px;top:954.8px;font-size:10.4px;color:#aaa">(99)</div>
<div class="a ts" style="left:414px;top:989px;width:132.5px;height:23.5px;border-radius:13px;border:1px solid #e4e4e4;background:#f1f1f1;color:#9a9a9a;font-size:9px;letter-spacing:0.3px;text-align:center;line-height:22.5px">燃气单位热值含碳量<span style="font-size:10px;vertical-align:-0.8px">CC</span></div>
<div class="a" style="left:552.8px;top:997.2px;font-size:10.4px;color:#aaa">(0.015tC/GJ)</div>
<div class="a ts" style="left:359.6px;top:1017.6px;width:100.8px;height:24.4px;border-radius:13px;border:1px solid #e4e4e4;background:#f1f1f1;color:#9a9a9a;font-size:9px;letter-spacing:0.3px;text-align:center;line-height:23.4px">燃气消耗量<span style="font-size:10px;vertical-align:-0.8px">FC</span></div>
<div class="a" style="left:466.7px;top:1026.3px;font-size:10.4px;color:#aaa">(0.00万吨)</div>
<div class="a ts" style="left:285.3px;top:1046.8px;width:100.7px;height:24.2px;border-radius:13px;border:1.6px solid #45a68a;background:#fff;color:#1b8f6b;font-size:9px;letter-spacing:0.3px;text-align:center;line-height:23.2px">购入电量<span style="font-size:10px;vertical-align:-0.8px">AD</span></div>
<div class="a" style="left:392.4px;top:1055.4px;font-size:10.4px;color:#333">(614.00MWh)</div>
<div class="a ts" style="left:285.3px;top:1081px;width:100.7px;height:24.6px;border-radius:13px;border:1.6px solid #45a68a;background:#fff;color:#1b8f6b;font-size:9px;letter-spacing:0.3px;text-align:center;line-height:23.6px">电网排放因子<span style="font-size:10px;vertical-align:-0.8px">EF</span></div>
<div class="a" style="left:392.4px;top:1089.8px;font-size:10.4px;color:#333">(0.5,839)tCO₂/MWh</div>
</body></html>
